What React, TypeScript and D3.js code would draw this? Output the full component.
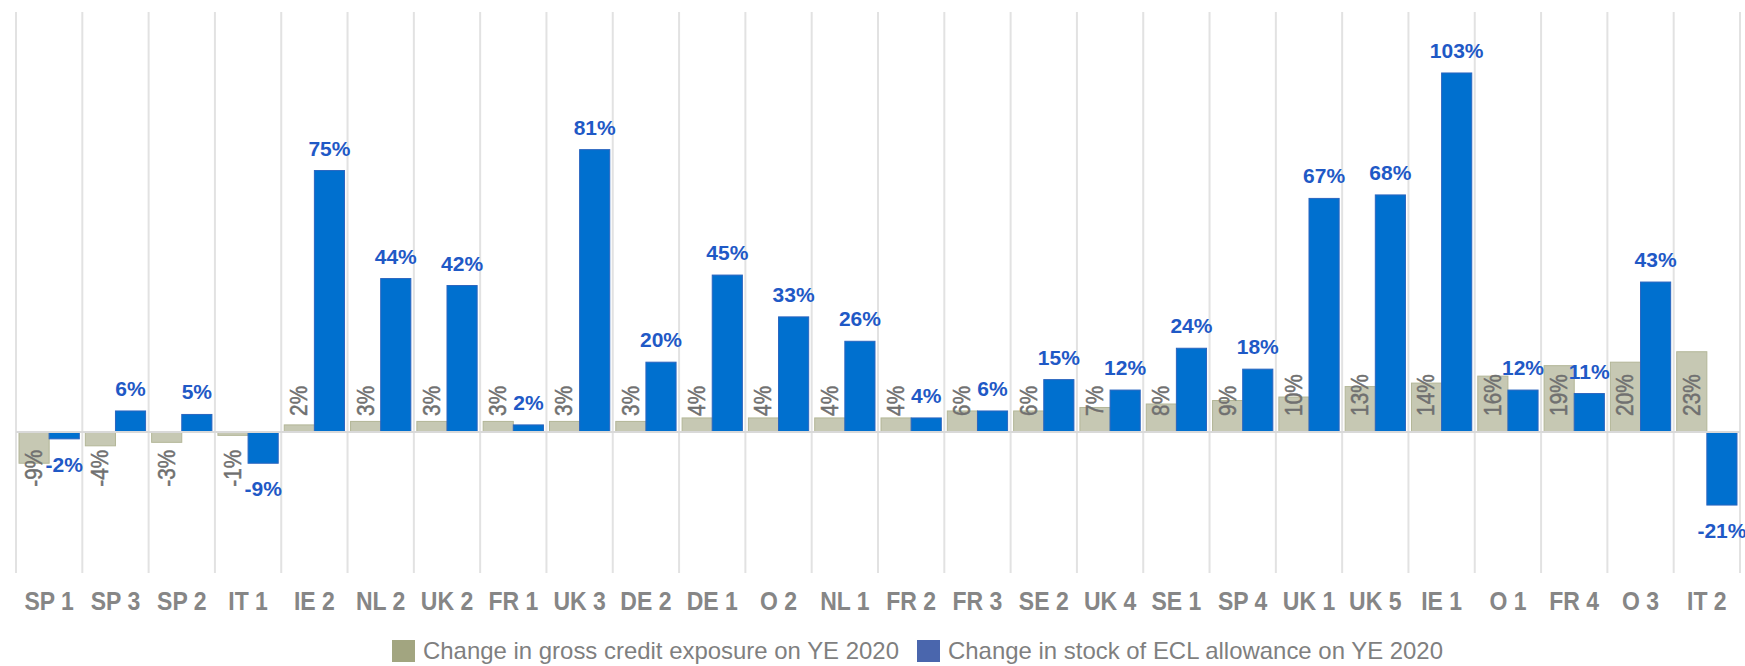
import React from "react";
import * as d3 from "d3";

// bank categories, left to right
const categories = ["SP 1", "SP 3", "SP 2", "IT 1", "IE 2", "NL 2", "UK 2", "FR 1", "UK 3", "DE 2", "DE 1", "O 2", "NL 1",
  "FR 2", "FR 3", "SE 2", "UK 4", "SE 1", "SP 4", "UK 1", "UK 5", "IE 1", "O 1", "FR 4", "O 3", "IT 2"];

// change in gross credit exposure (%)
const grossChange = [-9, -4, -3, -1, 2, 3, 3, 3, 3, 3, 4, 4, 4, 4, 6, 6, 7, 8, 9, 10, 13, 14, 16, 19, 20, 23];

// change in stock of ECL allowance (%)
const eclChange = [-2, 6, 5, -9, 75, 44, 42, 2, 81, 20, 45, 33, 26, 4, 6, 15, 12, 24, 18, 67, 68, 103, 12, 11, 43, -21];

const seriesKeys = ["gross", "ecl"];
const legendLabels = ["Change in gross credit exposure on YE 2020", "Change in stock of ECL allowance on YE 2020"];

const W = 1745, H = 666;
const FONT = "'Liberation Sans', Arial, sans-serif";

export default function App() {
  const x = d3.scaleBand().domain(categories).range([16, 1740]).padding(0);
  const xs = d3.scaleBand().domain(seriesKeys).range([0, x.bandwidth()]).paddingInner(0).paddingOuter(0.1);
  const y = d3.scaleLinear().domain([-40.5, 120.5]).range([573, 12]);
  const y0 = y(0);

  const rows = categories.map((c, i) => ({ cat: c, gross: grossChange[i], ecl: eclChange[i] }));
  const grid = categories.map(c => x(c) as number).concat([x.range()[1]]);

  return (
    <svg width={W} height={H} style={{ position: "absolute", left: 0, top: 0, background: "#fff" }} fontFamily={FONT}>
      {/* vertical separators */}
      <g>
        {grid.map((gx, i) => (
          <line key={i} x1={gx} x2={gx} y1={12} y2={573} stroke="#e2e2e2" strokeWidth={2} />
        ))}
      </g>

      {/* bars */}
      <g>
        {rows.map(d => {
          const bx = x(d.cat) as number;
          const gX = bx + (xs("gross") as number);
          const eX = bx + (xs("ecl") as number);
          const bw = xs.bandwidth();
          return (
            <g key={d.cat}>
              <rect x={gX} width={bw} y={Math.min(y(d.gross), y0)} height={Math.abs(y(d.gross) - y0)}
                fill="#c6c8b3" stroke="#b3b697" strokeWidth={1} />
              <rect x={eX} width={bw} y={Math.min(y(d.ecl), y0)} height={Math.abs(y(d.ecl) - y0)}
                fill="#0070cf" stroke="#2a65bf" strokeWidth={1} />
            </g>
          );
        })}
      </g>

      {/* zero axis */}
      <line x1={16} x2={1740} y1={y0} y2={y0} stroke="#d9d9d9" strokeWidth={2} />

      {/* gross labels, rotated */}
      <g fill="#707070" stroke="#707070" strokeWidth={0.5} fontSize={23}>
        {rows.map(d => {
          const cx = (x(d.cat) as number) + (xs("gross") as number) + xs.bandwidth() / 2;
          const pos = d.gross >= 0;
          const ly = pos ? y0 - 16 : y0 + 18;
          return (
            <text key={d.cat} transform={`translate(${cx},${ly}) rotate(-90) scale(0.9,1)`} textAnchor={pos ? "start" : "end"}
              dominantBaseline="central">{d.gross}%</text>
          );
        })}
      </g>

      {/* ECL labels */}
      <g fill="#1f59c6" fontSize={21} fontWeight="bold" textAnchor="middle">
        {rows.map(d => {
          const cx = (x(d.cat) as number) + (xs("ecl") as number) + xs.bandwidth() / 2;
          const ly = d.ecl >= 0 ? y(d.ecl) - 15 : y(d.ecl) + 33;
          return <text key={d.cat} x={cx} y={ly}>{d.ecl}%</text>;
        })}
      </g>

      {/* category axis labels */}
      <g fill="#868686" fontSize={25} fontWeight="bold" textAnchor="middle">
        {categories.map(c => (
          <text key={c} transform={`translate(${(x(c) as number) + x.bandwidth() / 2},610) scale(0.92,1)`}>{c}</text>
        ))}
      </g>

      {/* legend */}
      <g fontSize={24} fill="#7f7f7f">
        <rect x={392} y={640} width={23} height={22} fill="#a2a580" />
        <text x={423} y={659} textLength={476} lengthAdjust="spacingAndGlyphs">{legendLabels[0]}</text>
        <rect x={917} y={640} width={23} height={22} fill="#4a66ad" />
        <text x={948} y={659} textLength={495} lengthAdjust="spacingAndGlyphs">{legendLabels[1]}</text>
      </g>
    </svg>
  );
}
